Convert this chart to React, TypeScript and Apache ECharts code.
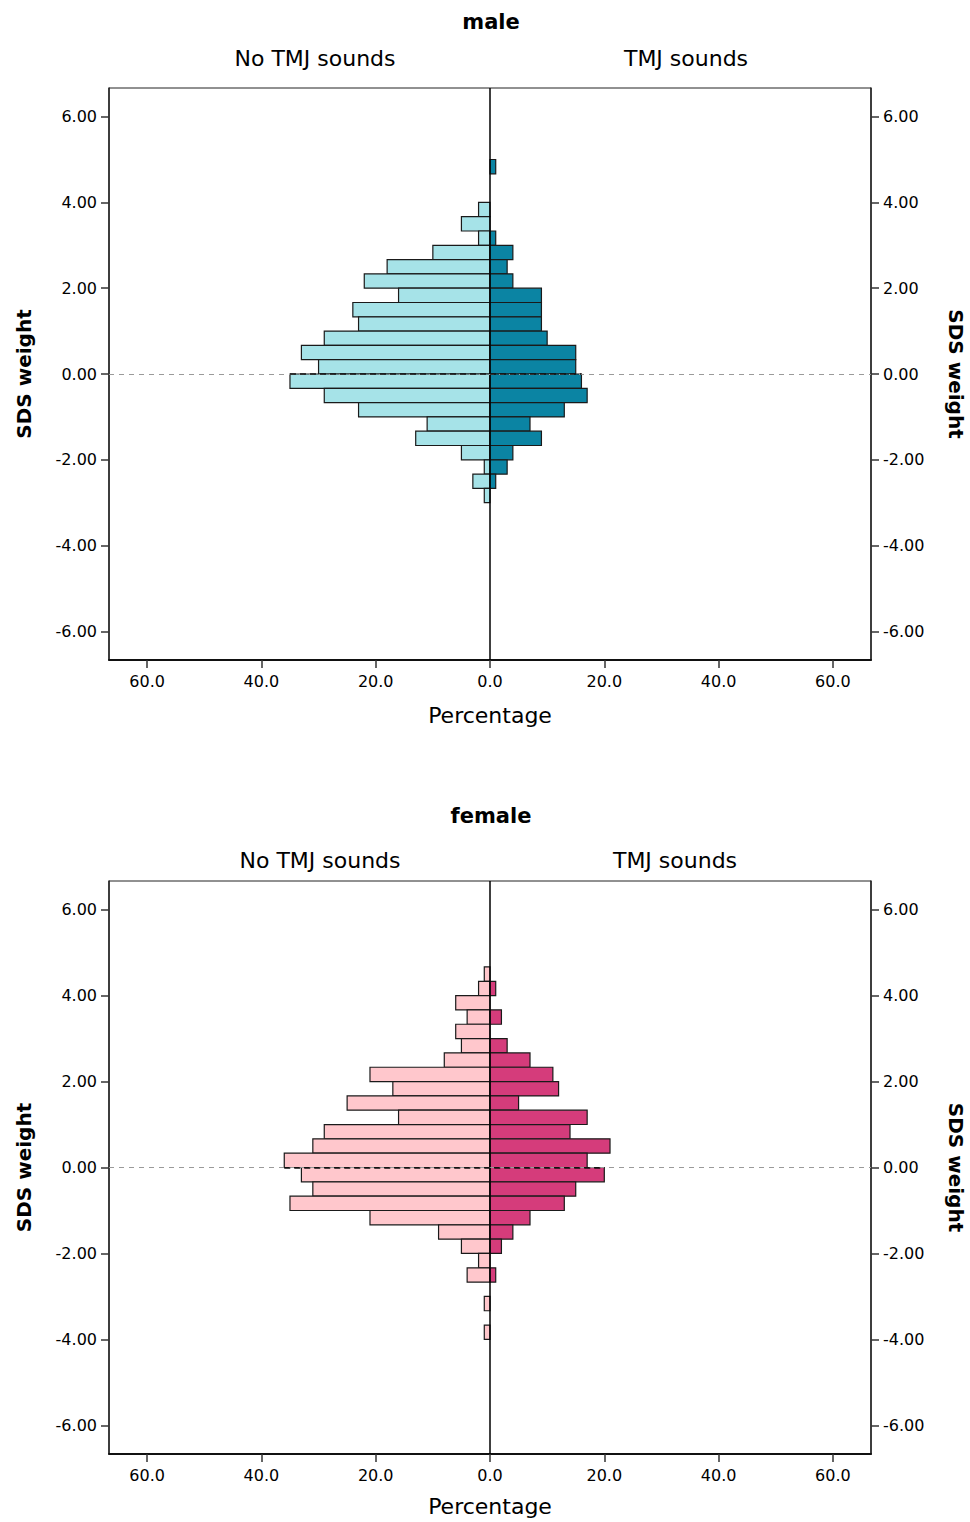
import React, { useEffect, useRef } from "react";
import * as echarts from "echarts";

// Bin index k: bin spans [k/3, (k+1)/3] on the SDS weight axis (top to bottom)
const BIN_INDEX = [14, 13, 12, 11, 10, 9, 8, 7, 6, 5, 4, 3, 2, 1, 0, -1, -2, -3, -4, -5, -6, -7, -8, -9, -10, -11, -12];

const MALE_NO_TMJ = [0, 0, 0, 2, 5, 2, 10, 18, 22, 16, 24, 23, 29, 33, 30, 35, 29, 23, 11, 13, 5, 1, 3, 1, 0, 0, 0];
const MALE_TMJ = [1, 0, 0, 0, 0, 1, 4, 3, 4, 9, 9, 9, 10, 15, 15, 16, 17, 13, 7, 9, 4, 3, 1, 0, 0, 0, 0];
const FEMALE_NO_TMJ = [0, 1, 2, 6, 4, 6, 5, 8, 21, 17, 25, 16, 29, 31, 36, 33, 31, 35, 21, 9, 5, 2, 4, 0, 1, 0, 1];
const FEMALE_TMJ = [0, 0, 1, 0, 2, 0, 3, 7, 11, 12, 5, 17, 14, 21, 17, 20, 15, 13, 7, 4, 2, 0, 1, 0, 0, 0, 0];

const X_TICKS = [-60, -40, -20, 0, 20, 40, 60];
const Y_TICKS = [-6, -4, -2, 0, 2, 4, 6];

const FONT = "DejaVu Sans";

function buildData(values: number[]) {
  return BIN_INDEX.map((k, i) => [k / 3, (k + 1) / 3, values[i]]).filter((d) => d[2] > 0);
}

function zeroExtent(values: number[]) {
  const i0 = BIN_INDEX.indexOf(0);
  const im = BIN_INDEX.indexOf(-1);
  return Math.max(values[i0], values[im]);
}

function barSeries(gridIdx: number, side: number, values: number[], fill: string, z: number, extra: any = {}) {
  return {
    type: "custom",
    xAxisIndex: gridIdx,
    yAxisIndex: gridIdx * 2,
    z,
    clip: true,
    data: buildData(values),
    encode: { x: 2, y: [0, 1] },
    renderItem: (params: any, api: any) => {
      const lo = api.value(0);
      const hi = api.value(1);
      const v = api.value(2);
      const a = api.coord([0, hi]);
      const b = api.coord([side * v, lo]);
      return {
        type: "rect",
        shape: {
          x: Math.min(a[0], b[0]),
          y: a[1],
          width: Math.abs(b[0] - a[0]),
          height: b[1] - a[1],
        },
        style: { fill, stroke: "#1a1a1a", lineWidth: 1.2 },
      };
    },
    ...extra,
  };
}

export default function App() {
  const ref = useRef<HTMLDivElement>(null);

  useEffect(() => {
    if (!ref.current) return;
    const chart = echarts.init(ref.current, undefined, { renderer: "svg", width: 970, height: 1522 });

    const grids = [
      { left: 109, width: 762, top: 88, height: 572, show: true, borderColor: "#222", borderWidth: 1, containLabel: false, outerBoundsMode: "none" },
      { left: 109, width: 762, top: 881, height: 573, show: true, borderColor: "#222", borderWidth: 1, containLabel: false, outerBoundsMode: "none" },
    ];

    const xAxisFor = (gridIndex: number, nameGap: number) => ({
      type: "value",
      gridIndex,
      min: -200 / 3,
      max: 200 / 3,
      name: "Percentage",
      nameLocation: "middle",
      nameGap,
      nameTextStyle: { fontFamily: FONT, fontSize: 22, color: "#000" },
      axisLine: { show: true, onZero: false, lineStyle: { color: "#111", width: 2 } },
      axisTick: { show: true, customValues: X_TICKS, length: 8, lineStyle: { color: "#333", width: 1.5 } },
      axisLabel: {
        customValues: X_TICKS,
        margin: 13,
        fontFamily: FONT,
        fontSize: 16,
        color: "#000",
        formatter: (v: number) => Math.abs(v).toFixed(1),
      },
      splitLine: { show: false },
    });

    const yAxisFor = (gridIndex: number, position: string) => ({
      type: "value",
      gridIndex,
      position,
      min: -20 / 3,
      max: 20 / 3,
      name: "SDS weight",
      nameLocation: "middle",
      nameGap: 75,
      nameRotate: position === "left" ? 90 : -90,
      nameTextStyle: { fontFamily: FONT, fontSize: 20, fontWeight: "bold", color: "#000" },
      axisLine: { show: true, onZero: false, lineStyle: { color: "#222", width: 1.5 } },
      axisTick: { show: true, customValues: Y_TICKS, length: 8, lineStyle: { color: "#333", width: 1.5 } },
      axisLabel: {
        customValues: Y_TICKS,
        margin: 12,
        fontFamily: FONT,
        fontSize: 16,
        color: "#000",
        formatter: (v: number) => v.toFixed(2),
      },
      splitLine: { show: false },
    });

    const markLinesFor = (left: number[], right: number[]) => ({
      silent: true,
      symbol: "none",
      label: { show: false },
      animation: false,
      data: [
        { xAxis: 0, lineStyle: { color: "#000", width: 1.5, type: "solid" } },
        { yAxis: 0, lineStyle: { color: "#9a9a9a", width: 1, type: [5, 5] } },
        [
          { coord: [-zeroExtent(left), 0], lineStyle: { color: "#111", width: 1.5, type: [6, 4] } },
          { coord: [zeroExtent(right), 0] },
        ],
      ],
    });

    const textStyle = (size: number, bold = false) => ({
      fontFamily: FONT,
      fontSize: size,
      fontWeight: bold ? "bold" : "normal",
      fill: "#000",
      textAlign: "center",
      textVerticalAlign: "middle",
    });

    const option: any = {
      animation: false,
      backgroundColor: "#fff",
      grid: grids,
      xAxis: [xAxisFor(0, 44), xAxisFor(1, 41)],
      yAxis: [yAxisFor(0, "left"), yAxisFor(0, "right"), yAxisFor(1, "left"), yAxisFor(1, "right")],
      graphic: [
        { type: "text", x: 491, y: 22, style: { text: "male", ...textStyle(21, true) } },
        { type: "text", x: 315, y: 58, style: { text: "No TMJ sounds", ...textStyle(22) } },
        { type: "text", x: 686, y: 58, style: { text: "TMJ sounds", ...textStyle(22) } },
        { type: "text", x: 491, y: 816, style: { text: "female", ...textStyle(21, true) } },
        { type: "text", x: 320, y: 860, style: { text: "No TMJ sounds", ...textStyle(22) } },
        { type: "text", x: 675, y: 860, style: { text: "TMJ sounds", ...textStyle(22) } },
      ],
      series: [
        barSeries(0, -1, MALE_NO_TMJ, "#a6e3e8", 2),
        barSeries(0, 1, MALE_TMJ, "#0b84a3", 3, { markLine: markLinesFor(MALE_NO_TMJ, MALE_TMJ) }),
        barSeries(1, -1, FEMALE_NO_TMJ, "#ffc7cc", 2),
        barSeries(1, 1, FEMALE_TMJ, "#d53c7b", 3, { markLine: markLinesFor(FEMALE_NO_TMJ, FEMALE_TMJ) }),
      ],
    };

    chart.setOption(option);
    return () => chart.dispose();
  }, []);

  return (
    <div
      ref={ref}
      style={{ position: "absolute", left: 0, top: 0, width: 970, height: 1522, background: "#fff" }}
    />
  );
}
